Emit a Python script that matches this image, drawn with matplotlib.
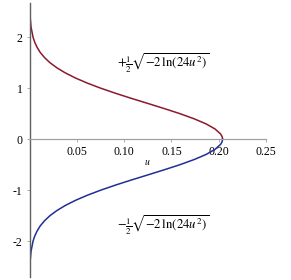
import matplotlib

matplotlib.use("Agg")
import matplotlib.pyplot as plt

plt.rcParams["font.family"] = ["Liberation Serif", "DejaVu Serif"]
plt.rcParams["mathtext.fontset"] = "stix"

# points: height y and matching u on the curve
y_pos = [0.0, 0.05, 0.1, 0.2, 0.3, 0.4, 0.5, 0.6, 0.7, 0.8, 0.9, 1.0, 1.1,
         1.2, 1.3, 1.4, 1.5, 1.6, 1.7, 1.8, 1.9, 2.0, 2.2, 2.4, 2.6, 2.67]
u_vals = [0.2041, 0.2036, 0.2021, 0.1961, 0.1866, 0.1739, 0.1590, 0.1424,
          0.1251, 0.1076, 0.0908, 0.0751, 0.0609, 0.0484, 0.0377, 0.0288,
          0.0215, 0.0158, 0.0113, 0.0080, 0.0055, 0.0037, 0.0016, 0.00064,
          0.00024, 0.00016]
y_neg = [-v for v in y_pos]

x_ticks = [0.05, 0.10, 0.15, 0.20, 0.25]
x_ticklabels = ["0.05", "0.10", "0.15", "0.20", "0.25"]
y_ticks = [-2, -1, 0, 1, 2]
y_ticklabels = ["-2", "-1", "0", "1", "2"]

fig = plt.figure(figsize=(2.91, 2.80), dpi=100)
ax = fig.add_axes([0.1014, 0.0107, 0.8127, 0.979])

ax.plot(u_vals, y_pos, color="#8b1a2b", linewidth=1.1)
ax.plot(u_vals, y_neg, color="#1f2f96", linewidth=1.1)

ax.set_xlim(0, 0.25)
ax.set_ylim(-2.7, 2.67)

for s in ["top", "right"]:
    ax.spines[s].set_visible(False)
ax.spines["bottom"].set_position(("data", 0))
ax.spines["left"].set_position(("data", 0))
ax.spines["bottom"].set_color("#a0a0a0")
ax.spines["left"].set_color("#606060")
ax.spines["bottom"].set_linewidth(0.9)
ax.spines["left"].set_linewidth(1.0)

ax.set_xticks(x_ticks)
ax.set_xticklabels(x_ticklabels)
ax.set_yticks(y_ticks)
ax.set_yticklabels(y_ticklabels)
ax.tick_params(axis="both", labelsize=8.5, length=2, width=0.6,
               color="#a0a0a0", pad=3)

ax.text(0.125, -0.45, "$u$", fontsize=7, ha="center", va="center")

ax.text(0.141, 1.49, r"$+\frac{1}{2}\sqrt{-2\,\ln(24u^2)}$", fontsize=9.2,
        ha="center", va="center")
ax.text(0.141, -1.69, r"$-\frac{1}{2}\sqrt{-2\,\ln(24u^2)}$", fontsize=9.2,
        ha="center", va="center")

fig.savefig("out.png", dpi=100)
